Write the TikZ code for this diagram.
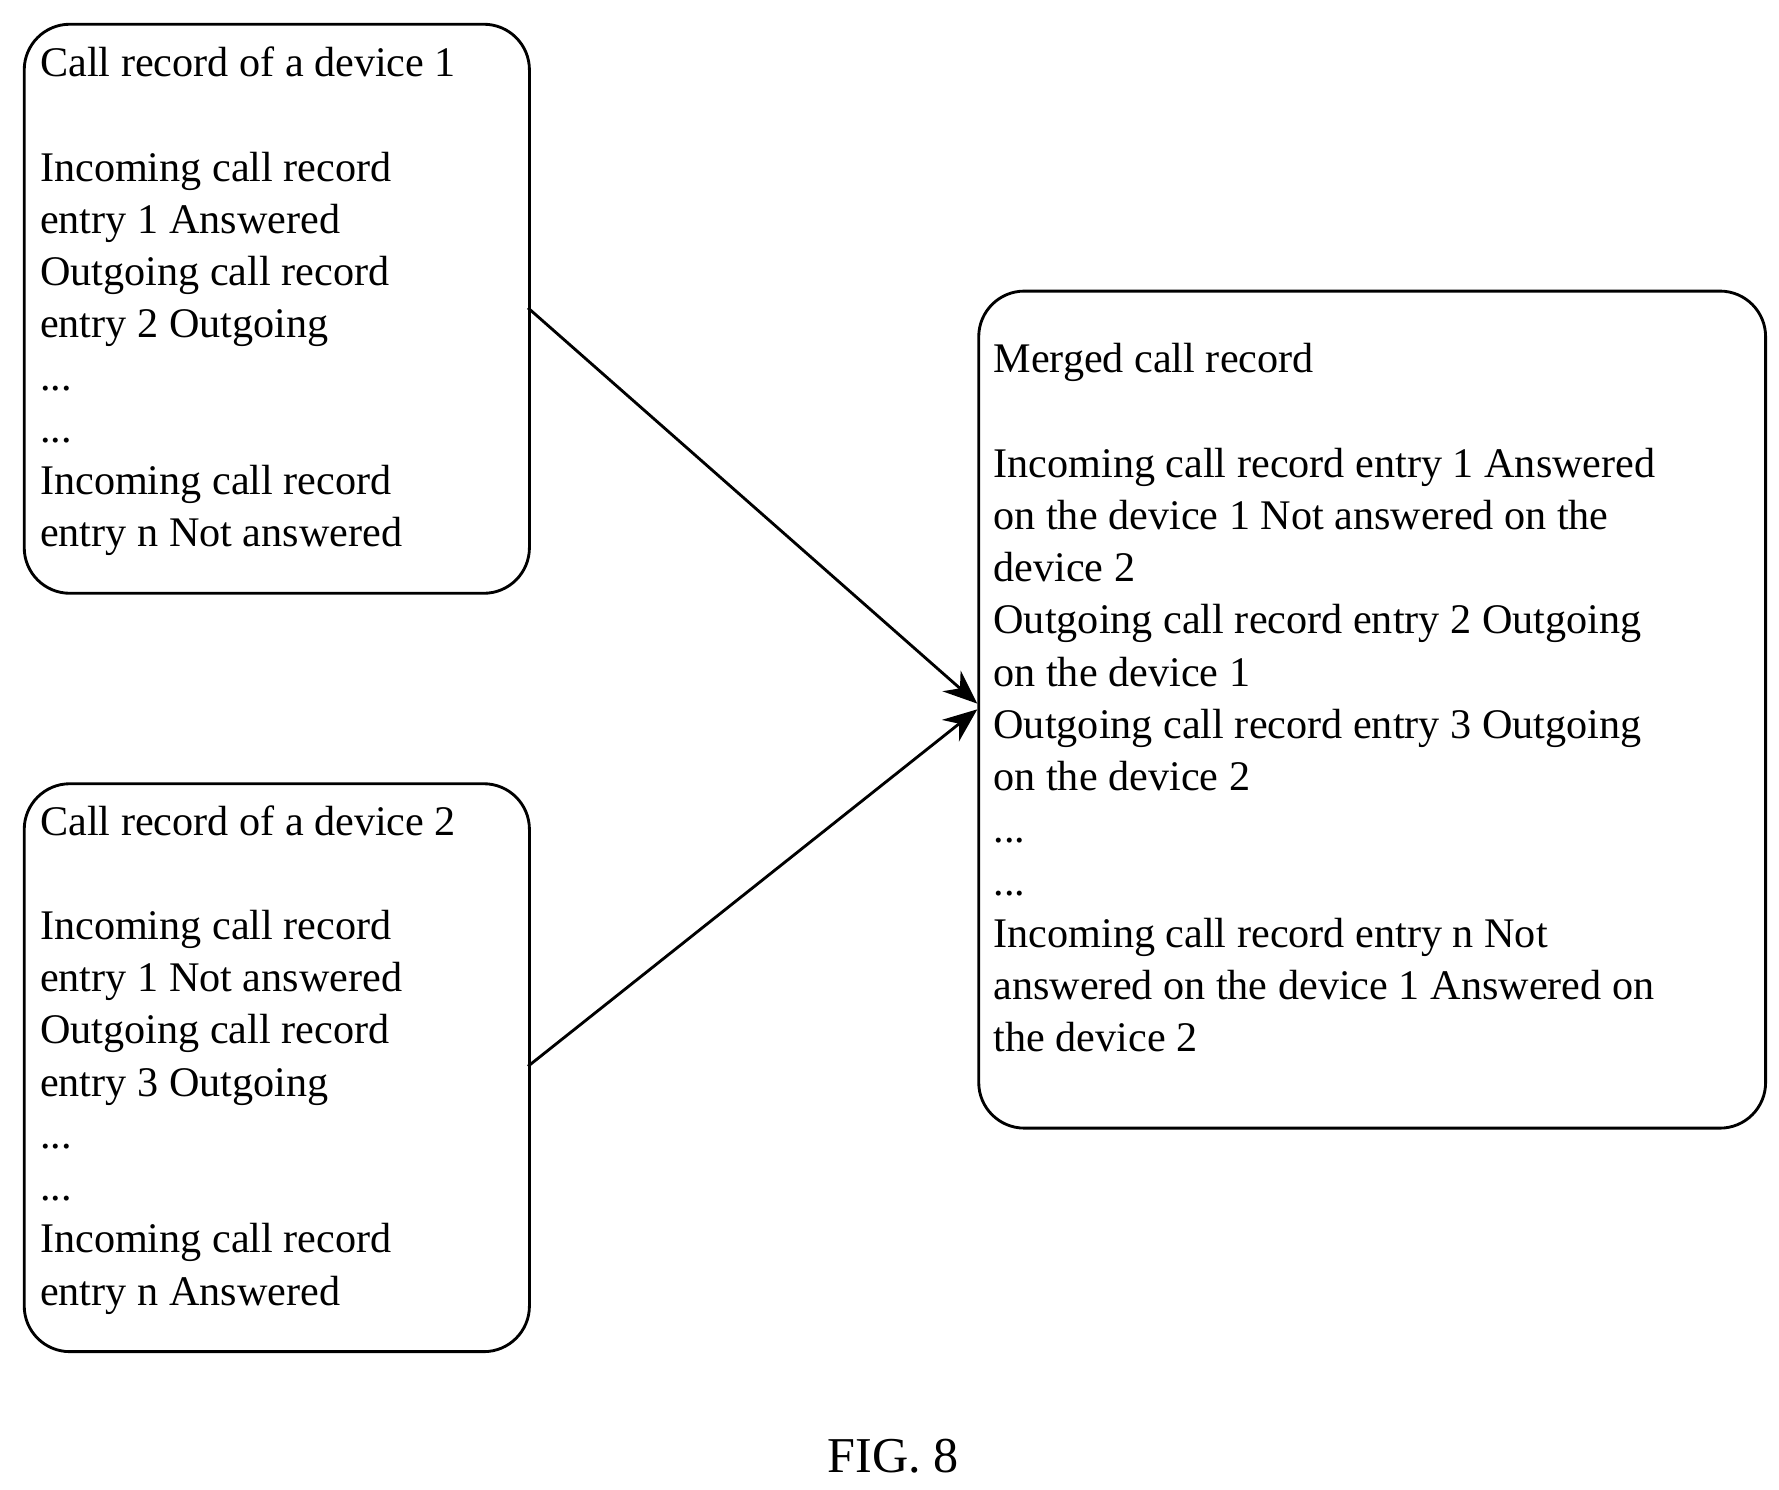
\documentclass[tikz,border=0pt]{standalone}
\usepackage{fontspec}
\setmainfont{Liberation Serif}
\usetikzlibrary{arrows.meta}
\begin{document}
\begin{tikzpicture}[x=1pt,y=-1pt,
  box/.style={draw,line width=2.5pt,rounded corners=40pt,inner sep=0pt},
  txt/.style={anchor=north west,inner sep=0pt,align=left,font=\fontsize{37}{45.8}\selectfont},
  arr/.style={line width=2.5pt,-{Stealth[length=30pt,width=24pt]}}]
\useasboundingbox (0,0) rectangle (1560,1306);
\node[box,minimum width=443pt,minimum height=499pt,anchor=north west] (b1) at (20,20) {};
\node[box,minimum width=443pt,minimum height=498pt,anchor=north west] (b2) at (20,686) {};
\node[box,minimum width=690pt,minimum height=734pt,anchor=north west] (b3) at (857,254) {};
\node[txt] (t1) at (35,41) {Call record of a device 1\\[45.8pt]Incoming call record\\entry 1 Answered\\Outgoing call record\\entry 2 Outgoing\\...\\...\\Incoming call record\\entry n Not answered};
\node[txt] (t2) at (35,706) {Call record of a device 2\\[45.8pt]Incoming call record\\entry 1 Not answered\\Outgoing call record\\entry 3 Outgoing\\...\\...\\Incoming call record\\entry n Answered};
\node[txt] (t3) at (871,301) {Merged call record\\[45.8pt]Incoming call record entry 1 Answered\\on the device 1 Not answered on the\\device 2\\Outgoing call record entry 2 Outgoing\\on the device 1\\Outgoing call record entry 3 Outgoing\\on the device 2\\...\\...\\Incoming call record entry n Not\\answered on the device 1 Answered on\\the device 2};
\coordinate (s1) at (463,270);
\coordinate (s2) at (463,935);
\coordinate (e1) at (857,617);
\coordinate (e2) at (857,622);
\draw[arr] (s1) -- (e1);
\draw[arr] (s2) -- (e2);
\node[font=\fontsize{44}{50}\selectfont] (fig) at (783,1277) {FIG. 8};
\end{tikzpicture}
\end{document}
